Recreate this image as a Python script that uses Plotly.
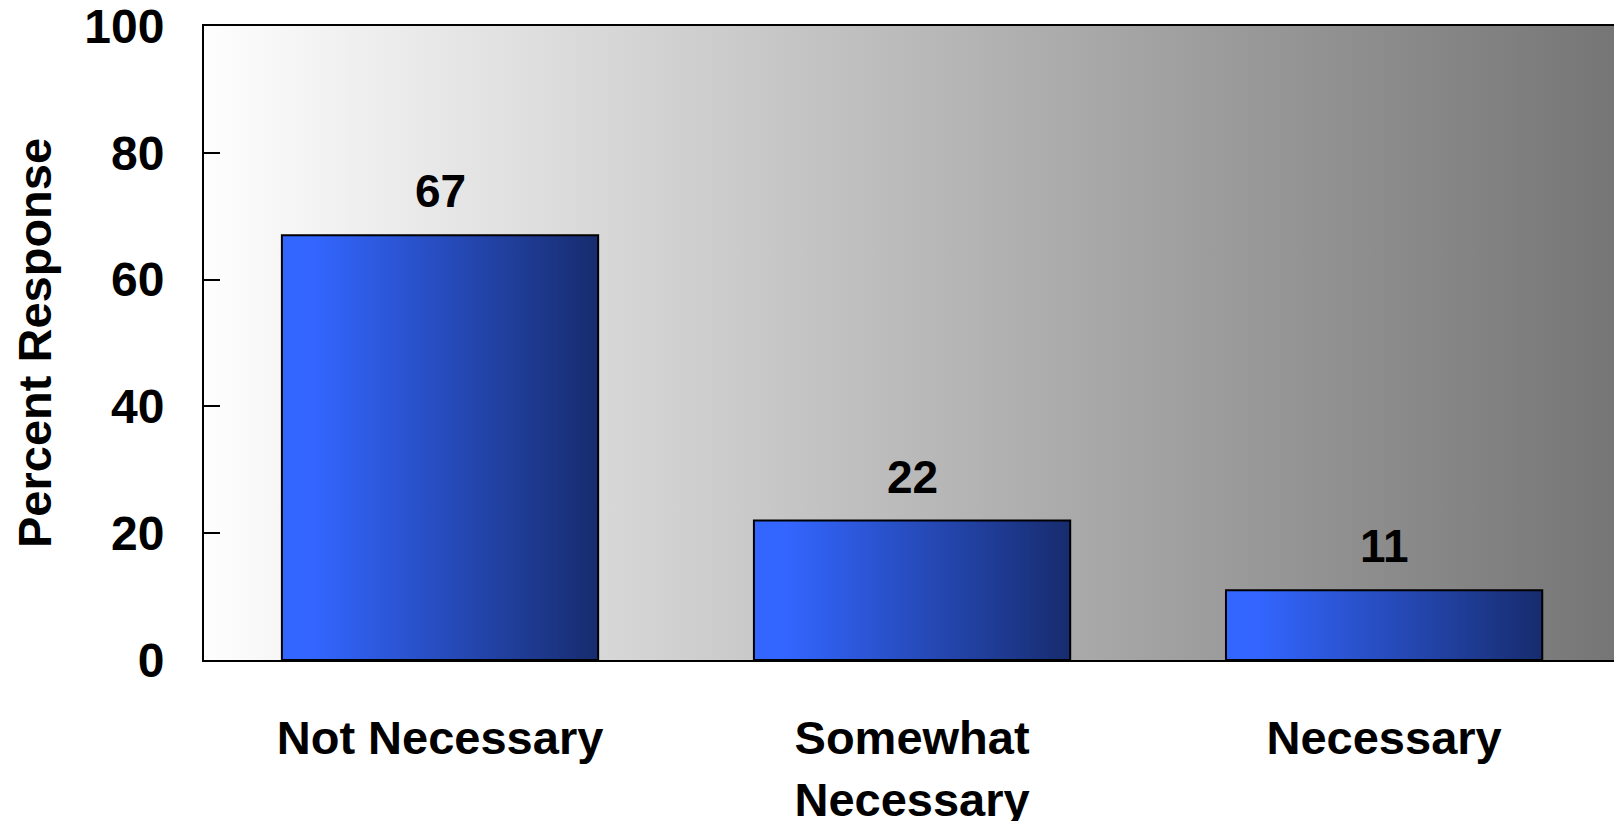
import plotly.graph_objects as go

categories = ["Not Necessary", "Somewhat<br>Necessary", "Necessary"]
values = [67, 22, 11]
y_ticks = [0, 20, 40, 60, 80, 100]
y_title = "Percent Response"

FAMILY = "Liberation Sans, Arial, sans-serif"


def font(size):
    return dict(family=FAMILY, color="#000000", size=size, weight="bold")


BAR_W = 0.67

fig = go.Figure()

# plot background gradient
x_lo, x_hi = -0.5, len(categories) - 0.5
fig.add_trace(go.Scatter(
    x=[x_lo, x_hi, x_hi, x_lo, x_lo], y=[0, 0, 100, 100, 0],
    mode="lines", line=dict(width=0), fill="toself",
    fillgradient=dict(type="horizontal",
                      colorscale=[[0, "#fefefe"], [1, "#757575"]]),
    hoverinfo="skip", showlegend=False))

# bars with horizontal gradient
for i, v in enumerate(values):
    x0, x1 = i - BAR_W / 2, i + BAR_W / 2
    fig.add_trace(go.Scatter(
        x=[x0, x1, x1, x0, x0], y=[0, 0, v, v, 0],
        mode="lines", line=dict(color="#000000", width=2), fill="toself",
        fillgradient=dict(type="horizontal",
                          colorscale=[[0, "#3366ff"], [0.1, "#3366ff"], [1, "#172c6e"]]),
        hoverinfo="skip", showlegend=False))
    fig.add_annotation(x=i, y=v, text=str(v), showarrow=False,
                       yanchor="bottom", yshift=16, font=font(46))

# y-axis title
fig.add_annotation(text=y_title, xref="paper", yref="paper", x=0, y=0.5,
                   xanchor="center", yanchor="middle", xshift=-170,
                   textangle=-90, showarrow=False, font=font(47))

fig.update_layout(
    width=1614, height=821,
    margin=dict(l=204, r=0, t=26, b=161, autoexpand=False),
    paper_bgcolor="#ffffff", plot_bgcolor="rgba(0,0,0,0)",
    showlegend=False,
    font=font(46),
)
fig.update_xaxes(
    range=[x_lo, x_hi - 0.013],
    tickvals=list(range(len(categories))), ticktext=categories,
    showgrid=False, zeroline=False, automargin=False,
    showline=True, linecolor="#000000", linewidth=2, mirror=True,
    ticks="", ticklabelstandoff=36, tickfont=font(47),
)
fig.update_yaxes(
    range=[0, 100], tickvals=y_ticks,
    showgrid=False, zeroline=False, automargin=False,
    showline=True, linecolor="#000000", linewidth=2,
    ticks="inside", ticklen=16, tickwidth=2, tickcolor="#000000",
    ticklabelstandoff=28, tickfont=font(48), ticklabeloverflow="allow",
)

fig.write_html("out.html", config={"displayModeBar": False},
               post_script="document.body.style.margin='0';")
